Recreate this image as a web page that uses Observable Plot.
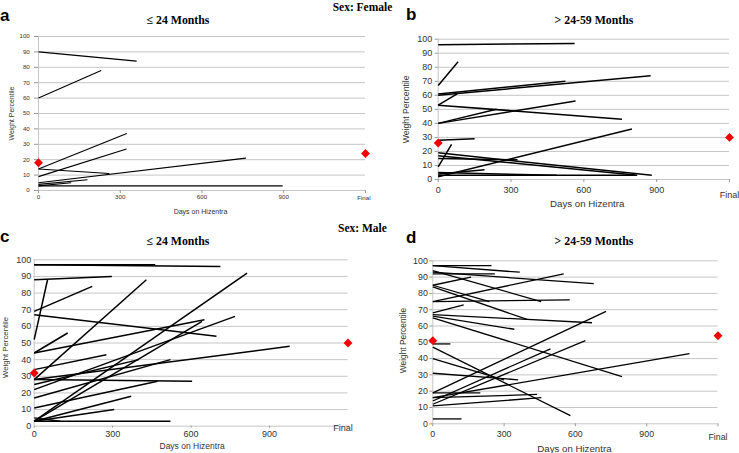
<!DOCTYPE html>
<html>
<head>
<meta charset="utf-8">
<script src="https://cdn.jsdelivr.net/npm/d3@7"></script>
<script src="https://cdn.jsdelivr.net/npm/@observablehq/plot@0.6"></script>
<style>
  html, body { margin: 0; padding: 0; background: #fff; }
  #chart { position: relative; width: 739px; height: 453px; background: #fff; overflow: hidden; }
  #chart > svg { position: absolute; }
</style>
</head>
<body>
<div id="chart"></div>
<script>
// ---------- shared axis data ----------
const startDay = 0;
const finalDay = 1200;               // position used for the "Final" category
const xTickValues = [0, 300, 600, 900, 1200];
const xTickLabels = ["0", "300", "600", "900", "Final"];
const yTickValues = [0, 10, 20, 30, 40, 50, 60, 70, 80, 90, 100];
const meanDays = [0, 1200];          // baseline and final mean markers
const xTitle = "Days on Hizentra";
const yTitle = "Weight Percentile";
const panelLetters = ["a", "b", "c", "d"];
const ageGroups = ["\u2264 24 Months", "> 24-59 Months"];
const sexLabels = ["Sex: Female", "Sex: Male"];

// ---------- panel a: female, <= 24 months ----------
const femaleYoungStart  = [90, 60, 14, 9, 14, 5, 3, 4, 3];
const femaleYoungEndDay = [360, 230, 324, 323, 260, 761, 896, 180, 120];
const femaleYoungEndPct = [84, 78, 37, 27, 11, 21, 3, 7, 5];
const femaleYoungMean   = [18, 24];

// ---------- panel b: female, > 24-59 months ----------
const femaleOlderStart  = [96, 67, 61, 60, 53, 53, 40, 40, 28, 9, 19, 17, 15, 2, 5, 4, 3];
const femaleOlderEndDay = [562, 82, 524, 875, 78, 757, 566, 240, 150, 55, 880, 820, 327, 798, 488, 191, 814];
const femaleOlderEndPct = [97, 84, 70, 74, 61, 43, 56, 50, 29, 25, 3, 3, 14, 36, 3, 7, 3];
const femaleOlderMean   = [26, 30];

// ---------- panel c: male, <= 24 months ----------
const maleYoungStart  = [97, 97, 88, 52, 69, 67, 44, 44, 34, 28, 28, 3, 3, 22, 25, 17, 28, 11, 3, 3, 3, 5];
const maleYoungEndDay = [463, 712, 297, 51, 222, 697, 128, 651, 276, 429, 604, 814, 642, 768, 400, 521, 977, 472, 371, 306, 521, 100];
const maleYoungEndPct = [97, 96, 90, 88, 84, 54, 56, 64, 43, 88, 27, 92, 63, 66, 40, 40, 48, 27, 18, 10, 3, 3];
const maleYoungMean   = [32, 50];

// ---------- panel d: male, > 24-59 months ----------
const maleOlderStart  = [97, 97, 92, 85, 93, 75, 94, 75, 85, 84, 67, 68, 66, 65, 49, 47, 31, 40, 19, 12, 14, 16, 11, 16, 19, 3];
const maleOlderEndDay = [247, 366, 261, 161, 677, 551, 456, 576, 238, 397, 670, 130, 343, 796, 74, 579, 359, 300, 729, 642, 495, 1080, 457, 439, 200, 121];
const maleOlderEndPct = [97, 93, 92, 90, 86, 92, 75, 76, 75, 64, 62, 73, 58, 29, 49, 5, 27, 27, 69, 51, 46, 43, 16, 18, 19, 3];
const maleOlderMean   = [51, 54];

// ---------- layout / style per panel ----------
const panels = [
  { start: femaleYoungStart, endDay: femaleYoungEndDay, endPct: femaleYoungEndPct, mean: femaleYoungMean,
    left: 0, top: 30, w: 375, h: 190, ml: 38, mr: 10, mt: 6, mb: 30,
    tfs: 6.2, yts: 4, ytp: 4.7, xts: 3, xtp: 1.5, lw: 1.1,
    fin: { dx: -1.6, dy: 8 }, yt: { dx: -26.3, dy: 0, fs: 6.9 }, xt: { dx: -1.5, dy: 21.7, fs: 7 } },
  { start: femaleOlderStart, endDay: femaleOlderEndDay, endPct: femaleOlderEndPct, mean: femaleOlderMean,
    left: 370, top: 30, w: 369, h: 190, ml: 67.7, mr: 10, mt: 8.7, mb: 41,
    tfs: 9, yts: 3, ytp: 3, xts: 3, xtp: 3.8, lw: 1.5,
    fin: { dx: 0, dy: 15.7 }, yt: { dx: -31.7, dy: 0, fs: 8.7 }, xt: { dx: 3.4, dy: 24, fs: 9.7 } },
  { start: maleYoungStart, endDay: maleYoungEndDay, endPct: maleYoungEndPct, mean: maleYoungMean,
    left: 0, top: 250, w: 370, h: 203, ml: 33.7, mr: 22.5, mt: 9.3, mb: 27.3,
    tfs: 9, yts: 0, ytp: 3, xts: 2, xtp: 2.1, lw: 1.5,
    fin: { dx: -5, dy: 2.3 }, yt: { dx: -28.4, dy: 4.5, fs: 7.8 }, xt: { dx: 1, dy: 20.3, fs: 8.5 } },
  { start: maleOlderStart, endDay: maleOlderEndDay, endPct: maleOlderEndPct, mean: maleOlderMean,
    left: 370, top: 250, w: 369, h: 203, ml: 62.3, mr: 21.5, mt: 10.3, mb: 29.7,
    tfs: 8.8, yts: 3, ytp: 2, xts: 3, xtp: 3.5, lw: 1.3,
    fin: { dx: 0, dy: 13.7 }, yt: { dx: -30, dy: -1.8, fs: 8.4 }, xt: { dx: -1, dy: 24.7, fs: 9.7 } }
];

const chart = document.getElementById("chart");
const gridColor = "#c6c6c6";

for (const p of panels) {
  const segs = p.start.map((s, i) => ({ x1: startDay, y1: s, x2: p.endDay[i], y2: p.endPct[i] }));
  const means = p.mean.map((v, i) => ({ day: meanDays[i], pct: v }));
  const finalTick = [{ day: xTickValues[4], label: xTickLabels[4] }];
  const svg = Plot.plot({
    width: p.w, height: p.h,
    marginLeft: p.ml, marginRight: p.mr, marginTop: p.mt, marginBottom: p.mb,
    x: { type: "linear", domain: [startDay, finalDay] },
    y: { type: "linear", domain: [0, 100] },
    style: { fontFamily: "'Liberation Sans', Arial, sans-serif", color: "#333", background: "none", overflow: "visible" },
    marks: [
      Plot.gridY(yTickValues, { stroke: gridColor, strokeOpacity: 1, strokeWidth: 1 }),
      Plot.ruleX([startDay], { stroke: gridColor, strokeWidth: 1 }),
      Plot.axisY(yTickValues, { tickSize: p.yts, tickPadding: p.ytp, fontSize: p.tfs, label: null, stroke: "#999", fill: "#333" }),
      Plot.axisX(xTickValues, { tickSize: p.xts, tickPadding: p.xtp, fontSize: p.tfs, label: null, stroke: "#999", fill: "#333",
        tickFormat: d => d === finalDay ? "" : xTickLabels[xTickValues.indexOf(d)] }),
      Plot.text(finalTick, { x: "day", text: "label", frameAnchor: "bottom", textAnchor: "middle", lineAnchor: "middle",
        dx: p.fin.dx, dy: p.fin.dy, fontSize: p.tfs, fill: "#333" }),
      Plot.text([yTitle], { text: d => d, frameAnchor: "left", rotate: -90, textAnchor: "middle", lineAnchor: "middle",
        dx: p.yt.dx, dy: p.yt.dy, fontSize: p.yt.fs, fill: "#333" }),
      Plot.text([xTitle], { text: d => d, frameAnchor: "bottom", textAnchor: "middle", lineAnchor: "middle",
        dx: p.xt.dx, dy: p.xt.dy, fontSize: p.xt.fs, fill: "#333" }),
      Plot.link(segs, { x1: "x1", y1: "y1", x2: "x2", y2: "y2", stroke: "#000", strokeWidth: p.lw }),
      Plot.dot(means, { x: "day", y: "pct", symbol: "diamond2", r: 4, fill: "#f20000", stroke: "none" })
    ]
  });
  svg.style.left = p.left + "px";
  svg.style.top = p.top + "px";
  chart.appendChild(svg);
}

// ---------- titles overlay ----------
const overlay = d3.select(chart).append("svg")
  .attr("width", 739).attr("height", 453)
  .style("left", "0px").style("top", "0px").style("pointer-events", "none");

const letterPos = [[0, 20.5], [406, 20], [0, 242], [406, 243]];
panelLetters.forEach((t, i) => {
  overlay.append("text").attr("x", letterPos[i][0]).attr("y", letterPos[i][1])
    .attr("font-family", "'Liberation Sans', Arial, sans-serif").attr("font-weight", "bold")
    .attr("font-size", 17).attr("fill", "#000").text(t);
});
const agePos = [[178, 23.5], [594, 23.5], [178, 245], [594, 245]];
agePos.forEach((pos, i) => {
  overlay.append("text").attr("x", pos[0]).attr("y", pos[1]).attr("text-anchor", "middle")
    .attr("font-family", "'Liberation Serif', 'Times New Roman', serif").attr("font-weight", "bold")
    .attr("font-size", 11.8).attr("fill", "#000").text(ageGroups[i % 2]);
});
const sexPos = [[362.5, 10.5], [362.5, 231.5]];
sexLabels.forEach((t, i) => {
  overlay.append("text").attr("x", sexPos[i][0]).attr("y", sexPos[i][1]).attr("text-anchor", "middle")
    .attr("font-family", "'Liberation Serif', 'Times New Roman', serif").attr("font-weight", "bold")
    .attr("font-size", 11.5).attr("fill", "#000").text(t);
});
</script>
</body>
</html>
